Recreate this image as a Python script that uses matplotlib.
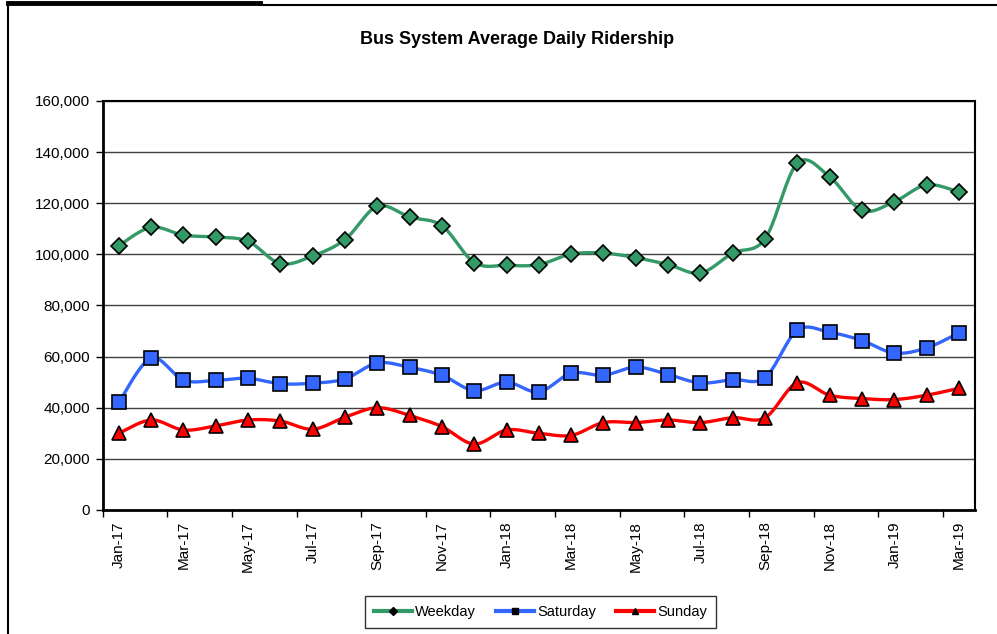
import numpy as np
import matplotlib.pyplot as plt
from matplotlib.lines import Line2D
from matplotlib.ticker import FuncFormatter, FixedLocator

plt.rcParams['font.family'] = ['Liberation Sans', 'DejaVu Sans']

months = ['Jan-17', 'Feb-17', 'Mar-17', 'Apr-17', 'May-17', 'Jun-17', 'Jul-17', 'Aug-17', 'Sep-17',
          'Oct-17', 'Nov-17', 'Dec-17', 'Jan-18', 'Feb-18', 'Mar-18', 'Apr-18', 'May-18', 'Jun-18',
          'Jul-18', 'Aug-18', 'Sep-18', 'Oct-18', 'Nov-18', 'Dec-18', 'Jan-19', 'Feb-19', 'Mar-19']

weekday = [103400, 110600, 107500, 106800, 105100, 96400, 99400, 105800, 118800,
           114600, 111200, 96800, 95700, 96000, 100100, 100500, 98700, 96000,
           92700, 100500, 106100, 135700, 130300, 117200, 120600, 127200, 124400]

saturday = [42100, 59400, 50800, 50700, 51500, 49400, 49600, 51300, 57500,
            55800, 52700, 46700, 50000, 46200, 53500, 52700, 55900, 53000,
            49700, 51000, 51800, 70300, 69500, 66300, 61400, 63400, 69300]

sunday = [30000, 35200, 31300, 32900, 35200, 34800, 31600, 36300, 40000,
          37000, 32600, 25800, 31300, 30000, 29200, 34200, 34200, 35200,
          34200, 36100, 36100, 49800, 44900, 43600, 43200, 44900, 47600]


def smooth(x, y, n=20):
    """Bezier smoothing with neighbour based control points (spreadsheet style)."""
    x = np.asarray(x, dtype=float)
    y = np.asarray(y, dtype=float)
    px = np.concatenate([[x[0]], x, [x[-1]]])
    py = np.concatenate([[y[0]], y, [y[-1]]])
    t = np.linspace(0, 1, n)
    xs, ys = [], []
    for i in range(1, len(px) - 2):
        p0x, p1x, p2x, p3x = px[i - 1], px[i], px[i + 1], px[i + 2]
        p0y, p1y, p2y, p3y = py[i - 1], py[i], py[i + 1], py[i + 2]
        c1x, c1y = p1x + (p2x - p0x) / 6, p1y + (p2y - p0y) / 6
        c2x, c2y = p2x - (p3x - p1x) / 6, p2y - (p3y - p1y) / 6
        bx = (1 - t) ** 3 * p1x + 3 * (1 - t) ** 2 * t * c1x + 3 * (1 - t) * t ** 2 * c2x + t ** 3 * p2x
        by = (1 - t) ** 3 * p1y + 3 * (1 - t) ** 2 * t * c1y + 3 * (1 - t) * t ** 2 * c2y + t ** 3 * p2y
        xs.append(bx if i == 1 else bx[1:])
        ys.append(by if i == 1 else by[1:])
    return np.concatenate(xs), np.concatenate(ys)


fig = plt.figure(figsize=(9.97, 6.34), dpi=100)
ax = fig.add_axes([0.103, 0.1956, 0.875, 0.6451])

x = np.arange(len(months))
series = [
    ('Weekday', weekday, '#339966', 'D', 8),
    ('Saturday', saturday, '#3366FF', 's', 10),
    ('Sunday', sunday, '#FF0000', '^', 10),
]
handles = []
for name, vals, color, marker, ms in series:
    sx, sy = smooth(x, vals)
    ax.plot(sx, sy, color=color, lw=2.4, zorder=3, solid_capstyle='round')
    ax.plot(x, vals, linestyle='none', marker=marker, markersize=ms, markerfacecolor=color,
            markeredgecolor='black', markeredgewidth=1.2, zorder=4)
    handles.append(Line2D([0], [0], color=color, lw=3, marker=marker, markersize=4,
                          markerfacecolor='black', markeredgecolor='black', label=name))

ax.set_xlim(-0.5, len(months) - 0.5)
ax.set_ylim(0, 160000)
ax.yaxis.set_major_locator(FixedLocator(np.arange(0, 160001, 20000)))
ax.yaxis.set_major_formatter(FuncFormatter(lambda v, p: f'{int(v):,}'))
ax.grid(axis='y', color='#404040', lw=1)
ax.set_axisbelow(True)

# labels centred on every other month, tick marks on the category boundaries
ax.set_xticks(x[::2])
ax.set_xticklabels(months[::2], rotation=90)
ax.set_xticks(np.arange(-0.5, len(months), 2), minor=True)
ax.tick_params(axis='x', which='major', length=0, pad=8, labelsize=11)
ax.tick_params(axis='x', which='minor', length=5, width=1, direction='out')
ax.tick_params(axis='y', length=5, width=1, direction='out', labelsize=11, pad=4)

for side in ['left', 'bottom']:
    ax.spines[side].set_linewidth(2)
for side in ['top', 'right']:
    ax.spines[side].set_linewidth(1.5)

fig.text(0.519, 0.937, 'Bus System Average Daily Ridership', ha='center', va='center',
         fontsize=13, fontweight='bold')

leg = fig.legend(handles=handles, loc='center', bbox_to_anchor=(0.542, 0.035), ncol=3,
                 fontsize=10.5, frameon=True, fancybox=False, edgecolor='black',
                 handlelength=2.6, columnspacing=1.4, handletextpad=0.2, borderpad=0.6,
                 borderaxespad=0)
leg.get_frame().set_linewidth(1)

# page frame around the chart
fig.add_artist(Line2D([0.008, 0.008], [0.992, 0.0], color='black', lw=1.5))
fig.add_artist(Line2D([0.008, 0.261], [0.995, 0.995], color='black', lw=3.5))
fig.add_artist(Line2D([0.261, 1.0], [0.992, 0.992], color='black', lw=1.5))

fig.savefig('out.png', dpi=100)
